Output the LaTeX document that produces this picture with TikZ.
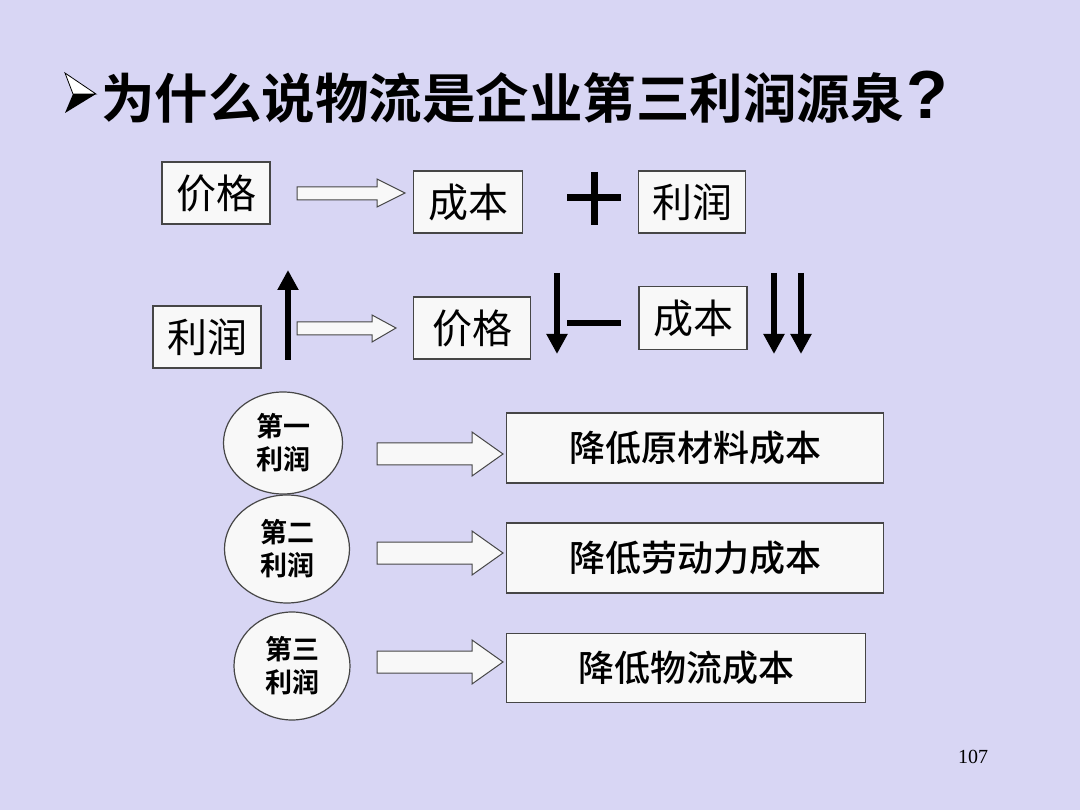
\documentclass[tikz,border=0pt]{standalone}
\usepackage{fontspec}
\usetikzlibrary{arrows.meta, shapes.geometric}
\setmainfont{Liberation Serif}
\newfontfamily\cjk[BoldFont={Noto Sans CJK SC Bold}]{Noto Sans CJK SC}
\newfontfamily\cjkmed{Noto Sans CJK SC Medium}
\newfontfamily\latinsans{Liberation Sans Bold}
\definecolor{slidebg}{RGB}{216,214,244}
\definecolor{boxfill}{RGB}{248,248,248}
\definecolor{boxline}{RGB}{70,70,70}
\begin{document}
\begin{tikzpicture}[x=1pt, y=-1pt,
        box/.style={draw=boxline, fill=boxfill, line width=1.2pt, inner sep=0pt},
        smallbox/.style={box, font=\cjk\fontsize{40}{48}\selectfont},
        bigbox/.style={box, minimum width=377pt, minimum height=70pt, font=\cjkmed\fontsize{36}{42}\selectfont},
        profit/.style={ellipse, draw=boxline, fill=boxfill, line width=1.2pt, inner sep=0pt, align=center, font=\cjk\bfseries\fontsize{27}{33}\selectfont},
        hollow/.style={draw=boxline, fill=boxfill, line width=1pt},
        blkarrow/.style={line width=6pt, -{Triangle[width=20pt, length=20pt]}}]
    \fill[slidebg] (0,0) rectangle (1080,810);
    \useasboundingbox (0,0) rectangle (1080,810);

    % title
    \fill[black] (73,94) -- (96,94) -- (65,113) -- cycle;
    \draw[black, line width=0.8pt, fill=white] (65,73) -- (96,94) -- (73,94) -- cycle;
    \node[anchor=west, inner sep=0pt, font=\cjk\bfseries\fontsize{53.5}{60}\selectfont] (title) at (101,97) {为什么说物流是企业第三利润源泉\hspace{3pt}{\latinsans\fontsize{68}{76}\selectfont ?}};

    % upper part
    \node[smallbox, minimum width=108pt, minimum height=62pt] (p1) at (216,193) {价格};
    \node[smallbox, minimum width=109pt, minimum height=62pt] (c1) at (468,202) {成本};
    \node[smallbox, minimum width=107pt, minimum height=62pt] (r1) at (692,202) {利润};
    \node[smallbox, minimum width=108pt, minimum height=62pt] (r2) at (207,337) {利润};
    \node[smallbox, minimum width=117pt, minimum height=62pt] (p2) at (472,328) {价格};
    \node[smallbox, minimum width=108pt, minimum height=63pt] (c2) at (693,318) {成本};

    \draw[hollow] (297,187) -- (377,187) -- (377,179) -- (405,193) -- (377,207) -- (377,200) -- (297,200) -- cycle;
    \draw[hollow] (297,322) -- (372,322) -- (372,315) -- (396,328) -- (372,342) -- (372,335) -- (297,335) -- cycle;

    % plus and minus
    \draw[line width=7pt] (567,198) -- (621,198);
    \draw[line width=7pt] (594,172) -- (594,225);
    \draw[line width=6pt] (567,323) -- (621,323);

    % up and down arrows
    \coordinate (u0) at (288,360);
    \coordinate (u1) at (288,270);
    \draw[blkarrow] (u0) -- (u1);
    \foreach \xx in {557, 774, 801} {
        \draw[blkarrow] (\xx,273) -- (\xx,354);
    }

    % lower part
    \node[profit, minimum width=119pt, minimum height=102pt] (e1) at (283,443) {第一\\利润};
    \node[profit, minimum width=125pt, minimum height=108pt] (e2) at (287,549) {第二\\利润};
    \node[profit, minimum width=116pt, minimum height=108pt] (e3) at (292,666) {第三\\利润};

    \node[bigbox] (b1) at (695,448) {降低原材料成本};
    \node[bigbox] (b2) at (695,558) {降低劳动力成本};
    \node[bigbox, minimum width=359pt, minimum height=69pt] (b3) at (686,668) {降低物流成本};

    \foreach \yy in {454, 553, 662} {
        \draw[hollow] (377,\yy-11) -- (472,\yy-11) -- (472,\yy-22) -- (503,\yy) -- (472,\yy+22) -- (472,\yy+11) -- (377,\yy+11) -- cycle;
    }

    % page number
    \node[font=\fontsize{20}{24}\selectfont] (page) at (973,757) {107};
\end{tikzpicture}
\end{document}
